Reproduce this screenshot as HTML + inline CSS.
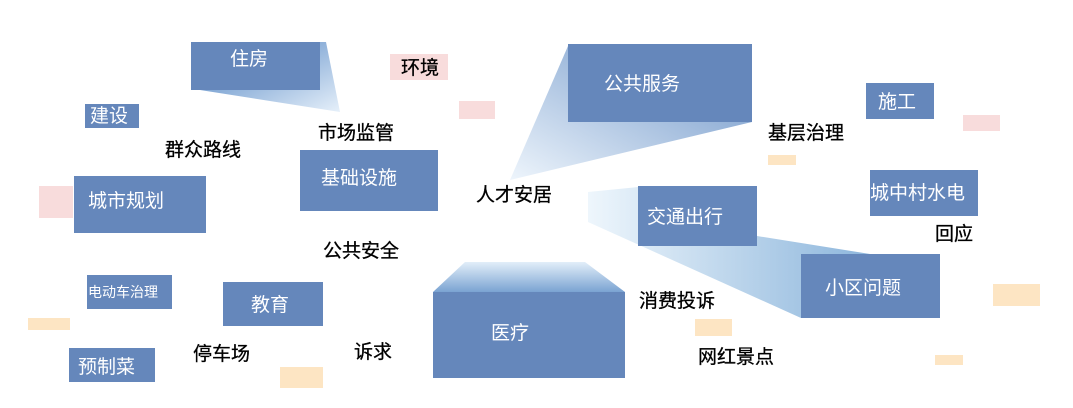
<!DOCTYPE html>
<html><head><meta charset="utf-8"><style>
body{margin:0;background:#fff;}
svg{display:block;font-family:"Liberation Sans","Noto Sans CJK SC",sans-serif;}
.w{fill:#fff;font-size:19px;}
.b{fill:#000;font-size:19px;stroke:#000;stroke-width:0.3px;}
</style></head><body>
<svg width="1073" height="408" viewBox="0 0 1073 408">
<defs>
<linearGradient id="g1" x1="0" y1="0" x2="1" y2="1"><stop offset="0" stop-color="#4a7fc0"/><stop offset="1" stop-color="#e6f0fa"/></linearGradient>
<linearGradient id="g2" x1="1" y1="0" x2="0" y2="1"><stop offset="0" stop-color="#6a92c6"/><stop offset="1" stop-color="#eef5fc"/></linearGradient>
<linearGradient id="g3" x1="1" y1="0" x2="0" y2="0"><stop offset="0" stop-color="#8db6dc"/><stop offset="1" stop-color="#eef6fc"/></linearGradient>
<linearGradient id="g4" x1="0" y1="1" x2="0" y2="0"><stop offset="0" stop-color="#7aa3d2"/><stop offset="1" stop-color="#e2eef9"/></linearGradient>
</defs>
<polygon points="200,90 320,90 320,42 326,42 340,112" fill="url(#g1)"/>
<polygon points="568,46 752,122 510,180" fill="url(#g2)"/>
<polygon points="588,192 638,187 638,246 757,236 870,254 801,318 588,222" fill="url(#g3)"/>
<polygon points="433,292 625,292 585,262 465,262" fill="url(#g4)"/>
<g fill="#6587bb">
<rect x="191" y="42" width="129" height="48"/>
<rect x="568" y="44" width="184" height="78"/>
<rect x="300" y="150" width="138" height="61"/>
<rect x="638" y="186" width="119" height="60"/>
<rect x="801" y="254" width="139" height="64"/>
<rect x="433" y="292" width="192" height="86"/>
<rect x="74" y="176" width="132" height="57"/>
<rect x="85" y="104" width="54" height="24"/>
<rect x="866" y="83" width="68" height="36"/>
<rect x="870" y="170" width="108" height="46"/>
<rect x="87" y="275" width="85" height="34"/>
<rect x="223" y="282" width="100" height="44"/>
<rect x="69" y="348" width="86" height="34"/>
</g>
<g fill="#f8dcdc">
<rect x="390" y="54" width="58" height="26"/>
<rect x="459" y="101" width="36" height="18"/>
<rect x="39" y="186" width="34" height="32"/>
<rect x="963" y="115" width="37" height="16"/>
</g>
<g fill="#fde5c3">
<rect x="768" y="155" width="28" height="10"/>
<rect x="28" y="318" width="42" height="12"/>
<rect x="280" y="367" width="43" height="21"/>
<rect x="695" y="319" width="37" height="17"/>
<rect x="993" y="284" width="47" height="22"/>
<rect x="935" y="355" width="28" height="10"/>
</g>
<text class="w" x="230" y="65">住房</text>
<text class="w" x="604" y="90">公共服务</text>
<text class="w" x="321" y="184">基础设施</text>
<text class="w" x="647" y="223">交通出行</text>
<text class="w" x="825" y="294">小区问题</text>
<text class="w" x="491" y="339">医疗</text>
<text class="w" x="88" y="207">城市规划</text>
<text class="w" x="90" y="122">建设</text>
<text class="w" x="878" y="108">施工</text>
<text class="w" x="870" y="199">城中村水电</text>
<text class="w" x="88" y="297" style="font-size:14px">电动车治理</text>
<text class="w" x="251" y="311">教育</text>
<text class="w" x="78" y="373">预制菜</text>
<text class="b" x="401" y="74">环境</text>
<text class="b" x="318" y="139">市场监管</text>
<text class="b" x="165" y="156">群众路线</text>
<text class="b" x="476" y="201">人才安居</text>
<text class="b" x="768" y="139">基层治理</text>
<text class="b" x="935" y="240">回应</text>
<text class="b" x="323" y="257">公共安全</text>
<text class="b" x="639" y="307">消费投诉</text>
<text class="b" x="698" y="363">网红景点</text>
<text class="b" x="193" y="360">停车场</text>
<text class="b" x="354" y="358">诉求</text>
</svg>
</body></html>
